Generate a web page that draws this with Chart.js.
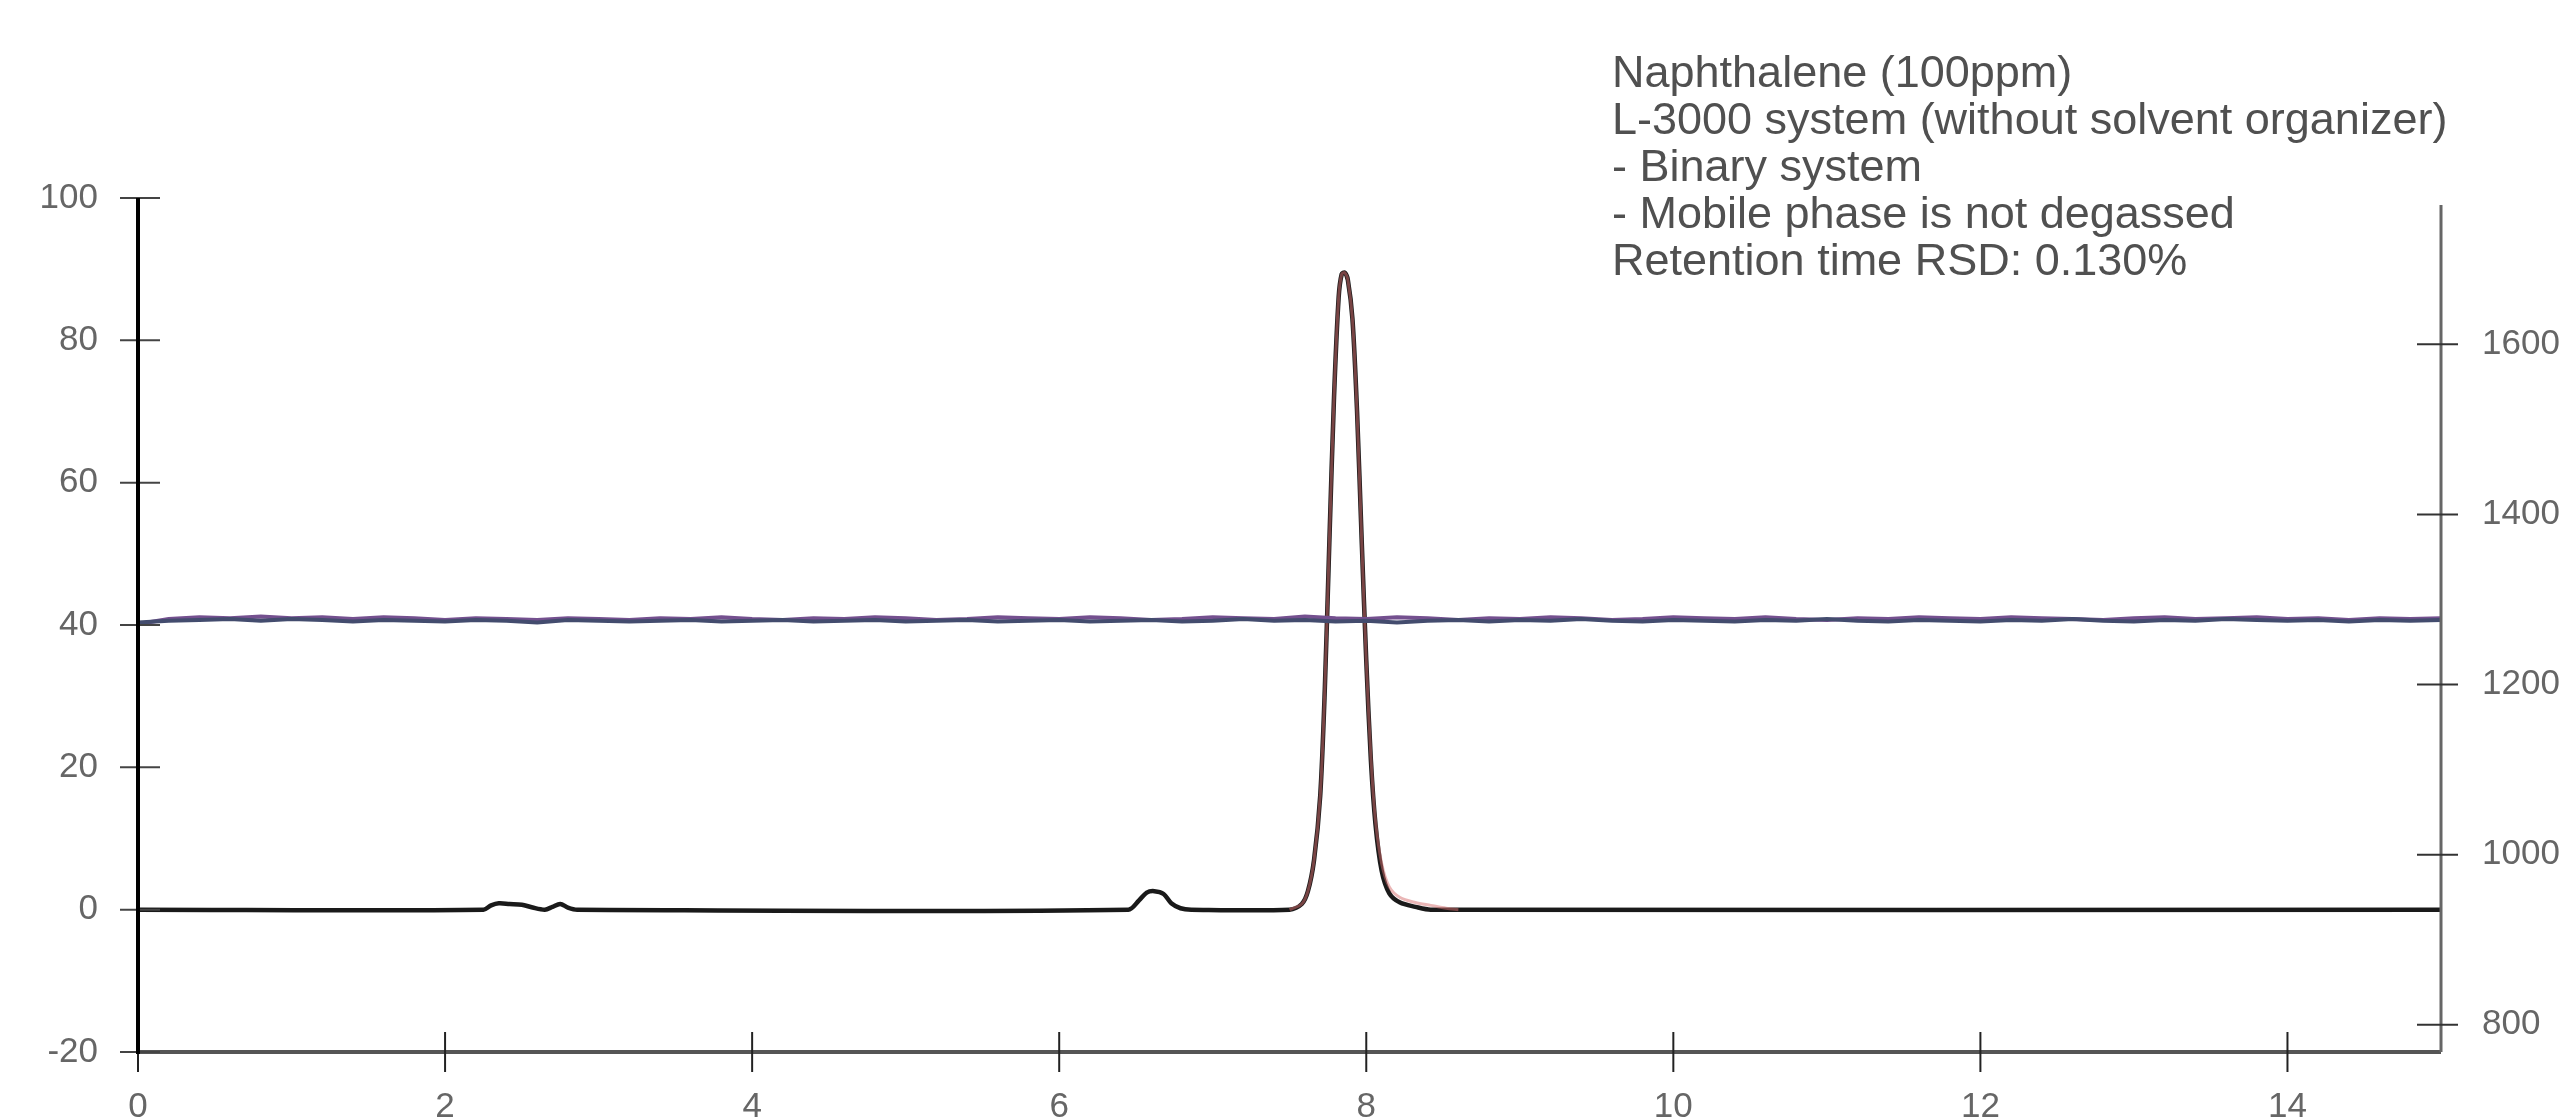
<!DOCTYPE html>
<html>
<head>
<meta charset="utf-8">
<script src="https://cdn.jsdelivr.net/npm/chart.js@4.4.1/dist/chart.umd.min.js"></script>
<style>
  html, body { margin: 0; padding: 0; background: #fff; overflow: hidden; }
  #wrap { position: relative; width: 2565px; height: 1118px; overflow: hidden; }
  #note {
    position: absolute; left: 1612px; top: 48px;
    font-family: "Liberation Sans", Arial, sans-serif;
    font-size: 45px; line-height: 47px; color: #505050;
    white-space: pre;
  }
</style>
</head>
<body>
<div id="wrap">
  <canvas id="chrom" width="2565" height="1140"></canvas>
  <div id="note">Naphthalene (100ppm)
L-3000 system (without solvent organizer)
- Binary system
- Mobile phase is not degassed
Retention time RSD: 0.130%</div>
</div>
<script>
// axis ticks
const timeTicks = [0, 2, 4, 6, 8, 10, 12, 14];
const signalTicks = [-20, 0, 20, 40, 60, 80, 100];
const pressureTicks = [800, 1000, 1200, 1400, 1600];

// chromatogram (black), time in min / signal
const traceTime = [0, 2.25, 2.3, 2.35, 2.42, 2.5, 2.57, 2.65, 2.7, 2.75, 2.8, 2.86,
  6.45, 6.52, 6.57, 6.62, 6.68, 6.73, 6.79, 6.86,
  7.5, 7.58, 7.62, 7.66, 7.7, 7.73, 7.76, 7.79, 7.82, 7.84, 7.86, 7.88, 7.91, 7.94, 7.97,
  8.0, 8.03, 8.06, 8.1, 8.15, 8.22, 8.32, 8.42, 15];
const traceSignal = [0, 0, 0.6, 0.9, 0.8, 0.7, 0.3, 0, 0.4, 0.8, 0.3, 0,
  0, 1.3, 2.4, 2.6, 2.2, 0.9, 0.2, 0,
  0, 0.8, 2.6, 7, 16, 31, 52, 72, 86, 89.3, 89.5, 88.5, 83, 70, 52,
  35, 21, 12, 5.5, 2.3, 1, 0.4, 0, 0];

// second injection (red), only shows on the tail
const redTime = [7.5, 7.58, 7.62, 7.66, 7.7, 7.73, 7.76, 7.79, 7.82, 7.84, 7.86, 7.88, 7.91, 7.94, 7.97,
  8.0, 8.03, 8.06, 8.1, 8.15, 8.22, 8.32, 8.42, 8.52, 8.6];
const redSignal = [0, 0.8, 2.6, 7, 16, 31, 52, 72, 86, 89.3, 89.5, 88.5, 83, 70, 52,
  35, 21.5, 12.5, 6.5, 3.2, 1.7, 1.0, 0.6, 0.2, 0];

// pressure traces, sampled every 0.2 min
const pressureStep = 0.2;
const pressurePurple = [1271, 1277, 1279, 1278, 1280, 1278, 1279, 1277, 1279, 1278,
  1276, 1278, 1277, 1276, 1278, 1277, 1276, 1278, 1277, 1279,
  1277, 1276, 1278, 1277, 1279, 1278, 1276, 1277, 1279, 1278,
  1277, 1279, 1278, 1276, 1277, 1279, 1278, 1277, 1280, 1278,
  1277, 1279, 1278, 1276, 1278, 1277, 1279, 1278, 1276, 1277,
  1279, 1278, 1277, 1279, 1277, 1276, 1278, 1277, 1279, 1278,
  1277, 1279, 1278, 1277, 1276, 1278, 1279, 1277, 1278, 1279,
  1277, 1278, 1276, 1278, 1277, 1278];
const pressureNavy = [1273, 1275, 1276, 1277, 1275, 1277, 1276, 1274, 1276, 1275,
  1274, 1276, 1275, 1273, 1276, 1275, 1274, 1275, 1276, 1274,
  1275, 1276, 1274, 1275, 1276, 1274, 1275, 1276, 1274, 1275,
  1276, 1274, 1275, 1276, 1274, 1275, 1277, 1275, 1276, 1274,
  1275, 1273, 1275, 1276, 1274, 1276, 1275, 1277, 1275, 1274,
  1276, 1275, 1274, 1276, 1275, 1277, 1275, 1274, 1276, 1275,
  1274, 1276, 1275, 1277, 1275, 1274, 1276, 1275, 1277, 1276,
  1275, 1276, 1274, 1276, 1275, 1276];

function pairs(xs, ys) {
  return ys.map((v, i) => ({ x: xs[i], y: v }));
}
function stepPairs(step, ys) {
  return ys.map((v, i) => ({ x: i * step, y: v }));
}

// axis lines with ticks crossing the axis
const axisPlugin = {
  id: "crossAxes",
  afterDatasetsDraw(chart) {
    const ctx = chart.ctx;
    const a = chart.chartArea;
    const x = chart.scales.x, y = chart.scales.y, y1 = chart.scales.y1;
    ctx.save();
    ctx.lineCap = "butt";

    // bottom axis
    ctx.strokeStyle = "#555";
    ctx.lineWidth = 4;
    ctx.beginPath();
    ctx.moveTo(a.left, a.bottom);
    ctx.lineTo(a.right, a.bottom);
    ctx.stroke();
    ctx.strokeStyle = "#222";
    ctx.lineWidth = 2;
    x.ticks.forEach(t => {
      const px = x.getPixelForValue(t.value);
      ctx.beginPath();
      ctx.moveTo(px, a.bottom - 20);
      ctx.lineTo(px, a.bottom + 20);
      ctx.stroke();
    });

    // right axis
    ctx.strokeStyle = "#666";
    ctx.lineWidth = 3;
    ctx.beginPath();
    ctx.moveTo(a.right, a.top + 7);
    ctx.lineTo(a.right, a.bottom);
    ctx.stroke();
    ctx.strokeStyle = "#333";
    ctx.lineWidth = 2;
    y1.ticks.forEach(t => {
      const py = y1.getPixelForValue(t.value);
      ctx.beginPath();
      ctx.moveTo(a.right - 24, py);
      ctx.lineTo(a.right + 17, py);
      ctx.stroke();
    });

    // left axis
    ctx.strokeStyle = "#444";
    ctx.lineWidth = 2;
    y.ticks.forEach(t => {
      const py = y.getPixelForValue(t.value);
      ctx.beginPath();
      ctx.moveTo(a.left - 18, py);
      ctx.lineTo(a.left + 22, py);
      ctx.stroke();
    });
    ctx.strokeStyle = "#000";
    ctx.lineWidth = 4;
    ctx.beginPath();
    ctx.moveTo(a.left, a.top);
    ctx.lineTo(a.left, a.bottom + 2);
    ctx.stroke();
    ctx.restore();
  }
};

const tickFont = { family: "'Liberation Sans', Arial, sans-serif", size: 35 };
const plainNum = v => String(v);

new Chart(document.getElementById("chrom"), {
  type: "line",
  data: {
    datasets: [
      {
        data: stepPairs(pressureStep, pressureNavy),
        yAxisID: "y1",
        borderColor: "#434c6e",
        borderWidth: 4,
        tension: 0
      },
      {
        data: stepPairs(pressureStep, pressurePurple),
        yAxisID: "y1",
        borderColor: "#74508f",
        borderWidth: 4,
        tension: 0
      },
      {
        data: pairs(redTime, redSignal),
        yAxisID: "y",
        borderColor: "rgba(214, 110, 110, 0.5)",
        borderWidth: 3,
        tension: 0.3
      },
      {
        data: pairs(traceTime, traceSignal),
        yAxisID: "y",
        borderColor: "#1a1a1a",
        borderWidth: 4.5,
        tension: 0.3
      }
    ]
  },
  options: {
    responsive: false,
    animation: false,
    devicePixelRatio: 1,
    layout: { padding: { top: 198, left: 0, right: 0, bottom: 0 } },
    elements: { point: { radius: 0 } },
    plugins: {
      legend: { display: false },
      tooltip: { enabled: false }
    },
    scales: {
      x: {
        type: "linear",
        min: 0,
        max: 15,
        grid: { display: false, drawTicks: false },
        border: { display: false },
        ticks: { padding: 34, color: "#666", font: tickFont, maxRotation: 0, callback: plainNum },
        afterBuildTicks: s => { s.ticks = timeTicks.map(v => ({ value: v })); },
        afterFit: s => { s.height = 1140 - 1052; }
      },
      y: {
        position: "left",
        min: -20,
        max: 100,
        grid: { display: false, drawTicks: false },
        border: { display: false },
        ticks: { padding: 40, color: "#666", font: tickFont, callback: plainNum },
        afterBuildTicks: s => { s.ticks = signalTicks.map(v => ({ value: v })); },
        afterFit: s => { s.width = 138; }
      },
      y1: {
        position: "right",
        min: 768,
        max: 1772,
        grid: { display: false, drawTicks: false },
        border: { display: false },
        ticks: { padding: 41, color: "#666", font: tickFont, callback: plainNum },
        afterBuildTicks: s => { s.ticks = pressureTicks.map(v => ({ value: v })); },
        afterFit: s => { s.width = 2565 - 2441; }
      }
    }
  },
  plugins: [axisPlugin]
});
</script>
</body>
</html>
